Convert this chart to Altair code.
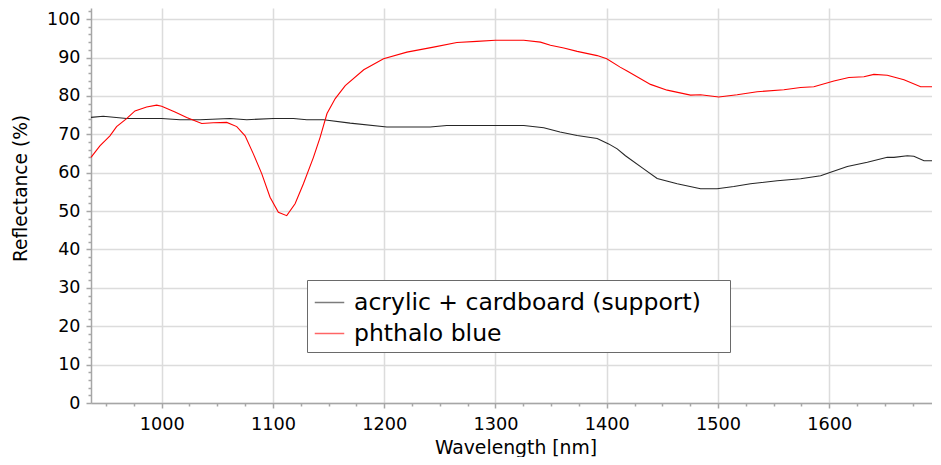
import altair as alt
import pandas as pd

# Series readings (wavelength nm, reflectance %)
support_wl = [936.5, 947.5, 968.5, 1000, 1016.5, 1034.5, 1061.4, 1076.5, 1100.4, 1118.4,
              1130.4, 1145.5, 1169.4, 1202.4, 1241.3, 1256.3, 1325.4, 1343.4, 1358, 1373.4,
              1391.4, 1401.7, 1409.4, 1416.8, 1433.2, 1445.3, 1463.3, 1484.3, 1499.2, 1514.2,
              1529.2, 1553.2, 1574.2, 1592.2, 1601.2, 1616.2, 1634.2, 1652.1, 1658.1, 1670.1,
              1676, 1685.1, 1692.3]
support_refl = [74.4, 74.7, 74.1, 74.1, 73.8, 73.8, 74.1, 73.8, 74.1, 74.1,
                73.8, 73.8, 72.9, 71.9, 71.9, 72.3, 72.3, 71.7, 70.6, 69.7,
                68.9, 67.5, 66.2, 64.4, 61.0, 58.5, 57.1, 55.8, 55.8, 56.4,
                57.1, 57.9, 58.4, 59.2, 60.1, 61.6, 62.7, 64.0, 64.0, 64.4,
                64.3, 63.1, 63.1]

phthalo_wl = [936.5, 944.5, 953.5, 959.5, 968.5, 976, 986.5, 995.5, 1000, 1012,
              1022.5, 1036, 1046.4, 1058.5, 1067.5, 1075, 1082.4, 1090, 1097.4, 1104.9,
              1112.4, 1119.9, 1127.4, 1136.4, 1142.4, 1148.6, 1156, 1165, 1181.6, 1199.4,
              1220.4, 1244.3, 1265.3, 1283.2, 1300, 1325.4, 1340.4, 1349.4, 1361.4, 1373.4,
              1391.4, 1400, 1412, 1418.3, 1439.3, 1454.3, 1475.3, 1484.3, 1500.7, 1517.2,
              1535.2, 1559.2, 1574.2, 1586.1, 1604.1, 1617.6, 1631.1, 1640.1, 1652.1, 1667.1,
              1682.1, 1692.3]
phthalo_refl = [64.0, 67.0, 69.6, 72.0, 74.1, 76.1, 77.1, 77.6, 77.3, 75.8,
                74.4, 72.8, 73.0, 73.1, 72.0, 69.6, 64.9, 59.7, 53.6, 49.7,
                48.8, 51.9, 57.1, 64.0, 69.2, 75.4, 79.3, 82.7, 86.8, 89.7,
                91.4, 92.7, 93.9, 94.2, 94.5, 94.5, 94.0, 93.2, 92.5, 91.6,
                90.5, 89.7, 87.5, 86.5, 83.0, 81.5, 80.2, 80.3, 79.7, 80.3,
                81.1, 81.6, 82.2, 82.4, 83.9, 84.8, 85.0, 85.6, 85.4, 84.2,
                82.4, 82.4]

series_names = ["acrylic + cardboard (support)", "phthalo blue"]
series_colors = ["#262626", "#ff0000"]

x_ticks = list(range(950, 1700, 25))
y_ticks = list(range(0, 104, 2))

df = pd.concat([
    pd.DataFrame({"wl": support_wl, "refl": support_refl, "series": series_names[0], "order": 0}),
    pd.DataFrame({"wl": phthalo_wl, "refl": phthalo_refl, "series": series_names[1], "order": 1}),
])

FONT = "DejaVu Sans"
AX_GRAY = "#a6a6a6"

x_axis = alt.Axis(
    title="Wavelength [nm]",
    values=x_ticks,
    format="d",
    labelExpr="datum.value % 100 === 0 ? datum.label : ''",
    labelOverlap=False,
    labelFlush=False,
    labelFontSize=17.7,
    labelBaseline="middle",
    labelPadding=16,
    tickSize={"condition": {"test": "datum.value % 100 === 0", "value": 5}, "value": 3},
    gridOpacity={"condition": {"test": "datum.value % 100 === 0", "value": 1}, "value": 0},
    titleFontSize=18.8,
    titleFontWeight="normal",
    titleX=424.5,
    titleY=44,
    titleBaseline="middle",
)

y_axis = alt.Axis(
    title="Reflectance (%)",
    values=y_ticks,
    format="d",
    labelExpr="datum.value % 10 === 0 ? datum.label : ''",
    labelOverlap=False,
    labelFlush=False,
    labelFontSize=17.5,
    labelPadding=6,
    tickSize={"condition": {"test": "datum.value % 10 === 0", "value": 5}, "value": 3},
    gridOpacity={"condition": {"test": "datum.value % 10 === 0", "value": 1}, "value": 0},
    titleFontSize=18.6,
    titleFontWeight="normal",
    titleX=-71,
    titleY=180,
    titleAngle=270,
    titleAlign="center",
    titleBaseline="middle",
)

chart = alt.Chart(df).mark_line(strokeWidth=1.1).encode(
    x=alt.X("wl:Q", scale=alt.Scale(domain=[936.5, 1692.3], nice=False, zero=False), axis=x_axis),
    y=alt.Y("refl:Q", scale=alt.Scale(domain=[0, 102.9], nice=False, zero=True), axis=y_axis),
    color=alt.Color(
        "series:N",
        scale=alt.Scale(domain=series_names, range=series_colors),
        legend=alt.Legend(
            title="\u2002",
            titleOrient="right",
            titlePadding=22,
            titleFontSize=12,
            orient="none",
            legendX=216,
            legendY=272,
            symbolType="stroke",
            symbolSize=870,
            symbolStrokeWidth=1.5,
            symbolOpacity=0.6,
            labelFontSize=23.5,
            labelFont=FONT,
            labelLimit=600,
            labelOffset=9,
            padding=7,
            rowPadding=4,
            strokeColor="#6a6a6a",
            fillColor="white",
        ),
    ),
    order="order:Q",
).properties(
    width=841,
    height=395,
    autosize=alt.AutoSizeParams(type="none"),
    padding={"left": 83, "top": 0, "right": 0, "bottom": 54},
).configure_view(
    stroke=None
).configure_axis(
    labelFont=FONT,
    titleFont=FONT,
    labelColor="black",
    titleColor="black",
    domainColor=AX_GRAY,
    domainWidth=1.5,
    tickColor=AX_GRAY,
    tickWidth=1.5,
    gridColor="#dcdcdc",
    gridWidth=1.5,
)

chart.save("out.html", embed_options={"renderer": "svg", "actions": False})
